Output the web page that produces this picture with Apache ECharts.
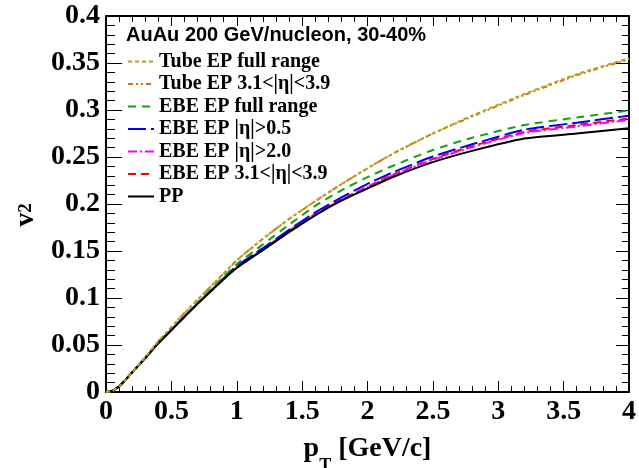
<!DOCTYPE html>
<html>
<head>
<meta charset="utf-8">
<script src="https://cdn.jsdelivr.net/npm/echarts@6/dist/echarts.min.js"></script>
<style>
html,body{margin:0;padding:0;background:#fff;}
#chart{width:639px;height:468px;}
</style>
</head>
<body>
<div id="chart"></div>
<script>
// ---- data ----
var pT = [0,0.05,0.1,0.15,0.2,0.3,0.4,0.5,0.6,0.7,0.8,0.9,1.0,1.2,1.4,1.6,1.8,2.0,2.2,2.5,2.8,3.2,3.6,4.0];
var tubeFull  = [0,0.0015,0.006,0.013,0.021,0.037,0.054,0.069,0.084,0.098,0.112,0.126,0.140,0.163,0.184,0.203,0.221,0.238,0.254,0.275,0.294,0.317,0.338,0.355];
var tube3139  = [0,0.0015,0.006,0.013,0.021,0.037,0.054,0.069,0.084,0.098,0.112,0.126,0.140,0.163,0.184,0.203,0.221,0.238,0.254,0.275,0.293,0.316,0.337,0.354];
var ebeFull   = [0,0.0015,0.006,0.013,0.021,0.036,0.052,0.066,0.0805,0.095,0.109,0.123,0.136,0.157,0.178,0.198,0.2145,0.2285,0.241,0.2575,0.2705,0.284,0.292,0.2995];
var ebeEta05  = [0,0.0015,0.006,0.013,0.021,0.036,0.052,0.066,0.080,0.094,0.1075,0.121,0.134,0.153,0.1725,0.191,0.207,0.2215,0.234,0.2505,0.2635,0.279,0.2865,0.294];
var ebeEta20  = [0,0.0015,0.006,0.013,0.021,0.036,0.052,0.066,0.080,0.094,0.107,0.1205,0.1325,0.1515,0.171,0.189,0.2045,0.218,0.231,0.247,0.2605,0.2755,0.2825,0.2895];
var ebe3139   = [0,0.0015,0.006,0.013,0.021,0.036,0.052,0.066,0.080,0.094,0.107,0.1205,0.133,0.152,0.1715,0.1895,0.205,0.2185,0.2315,0.248,0.2615,0.2766,0.284,0.291];
var pp        = [0,0.0015,0.006,0.013,0.021,0.036,0.052,0.066,0.080,0.094,0.107,0.120,0.132,0.151,0.170,0.188,0.2035,0.2165,0.229,0.2445,0.2565,0.2696,0.275,0.2805];

var seriesNames = ['Tube EP full range','Tube EP 3.1<|η|<3.9','EBE EP full range','EBE EP |η|>0.5','EBE EP |η|>2.0','EBE EP 3.1<|η|<3.9','PP'];
var seriesValues = [tubeFull, tube3139, ebeFull, ebeEta05, ebeEta20, ebe3139, pp];
var headerText = 'AuAu 200 GeV/nucleon, 30-40%';

// ---- styles ----
var styles = [
  {color:'#b8a416', type:[4,3]},
  {color:'#d9700f', type:[5,3,2,3,2,3]},
  {color:'#13a013', type:[8,6]},
  {color:'#0000ff', type:[18,5]},
  {color:'#ff00ff', type:[9,3,2,3]},
  {color:'#ff0000', type:[8,5]},
  {color:'#000000', type:'solid'}
];

function pairs(vals){ return pT.map(function(x,i){return [x, vals[i]];}); }

var series = seriesNames.map(function(n,i){
  return {
    name:n, type:'line', xAxisIndex:0, yAxisIndex:0,
    data: pairs(seriesValues[i]),
    showSymbol:false, symbol:'none', smooth:0.2,
    lineStyle:{color:styles[i].color, width:2, type:styles[i].type},
    itemStyle:{color:styles[i].color},
    z: 10 - i + (i===6?5:0)
  };
});

var labelFont = {fontFamily:'Liberation Serif', fontWeight:'bold', fontSize:28, color:'#000'};
var grid = {left:106, right:10, top:16, bottom:76, outerBoundsMode:'none', containLabel:false};

function ticks(len, mlen){
  return {
    tick:{show:true, inside:true, length:len, lineStyle:{color:'#000', width:1}},
    minor:{show:true, splitNumber:5, length:mlen, lineStyle:{color:'#000', width:1}}
  };
}
var tb = ticks(11,6), tt = ticks(10,6), tl = ticks(16,9), tr = ticks(13,7);

var chart = echarts.init(document.getElementById('chart'), null, {renderer:'canvas'});
chart.setOption({
  animation:false,
  backgroundColor:'#fff',
  title:{
    text: headerText, left:126, top:25, padding:0,
    textStyle:{fontFamily:'Liberation Sans', fontWeight:'bold', fontSize:20, color:'#000'}
  },
  legend:{
    orient:'vertical', left:127, top:51.5, itemWidth:26, itemHeight:14, itemGap:2.5,
    padding:0, itemStyle:{opacity:0},
    textStyle:{fontFamily:'Liberation Serif', fontWeight:'bold', fontSize:20, color:'#000'},
    data: seriesNames
  },
  grid: grid,
  xAxis:[{
    type:'value', min:0, max:4, interval:0.5, position:'bottom',
    axisLine:{show:true, onZero:false, lineStyle:{color:'#000', width:2}},
    axisTick:tb.tick, minorTick:tb.minor,
    splitLine:{show:false},
    axisLabel:Object.assign({margin:6}, labelFont),
    name:'{p|p}{s|T}{p| [GeV/c]}', nameLocation:'middle', nameGap:43,
    nameTextStyle:{rich:{
      p:{fontFamily:'Liberation Serif', fontWeight:'bold', fontSize:28, color:'#000', verticalAlign:'top', lineHeight:28},
      s:{fontFamily:'Liberation Serif', fontWeight:'bold', fontSize:18, color:'#000', verticalAlign:'top', lineHeight:18, padding:[22,0,0,0]}
    }}
  },{
    type:'value', min:0, max:4, interval:0.5, position:'top',
    axisLine:{show:true, onZero:false, lineStyle:{color:'#000', width:2}},
    axisTick:tt.tick, minorTick:tt.minor,
    splitLine:{show:false}, axisLabel:{show:false}
  }],
  yAxis:[{
    type:'value', min:0, max:0.4, interval:0.05, position:'left',
    axisLine:{show:true, onZero:false, lineStyle:{color:'#000', width:2}},
    axisTick:tl.tick, minorTick:tl.minor,
    splitLine:{show:false},
    axisLabel:Object.assign({margin:6}, labelFont),
    name:'{v|v}{s|2}', nameLocation:'middle', nameGap:66, nameRotate:90,
    nameTextStyle:{padding:[0,22,0,0], rich:{
      v:{fontFamily:'Liberation Serif', fontWeight:'bold', fontSize:28, color:'#000'},
      s:{fontFamily:'Liberation Serif', fontWeight:'bold', fontSize:19, color:'#000'}
    }}
  },{
    type:'value', min:0, max:0.4, interval:0.05, position:'right',
    axisLine:{show:true, onZero:false, lineStyle:{color:'#000', width:2}},
    axisTick:tr.tick, minorTick:tr.minor,
    splitLine:{show:false}, axisLabel:{show:false}
  }],
  series: series
});
</script>
</body>
</html>
